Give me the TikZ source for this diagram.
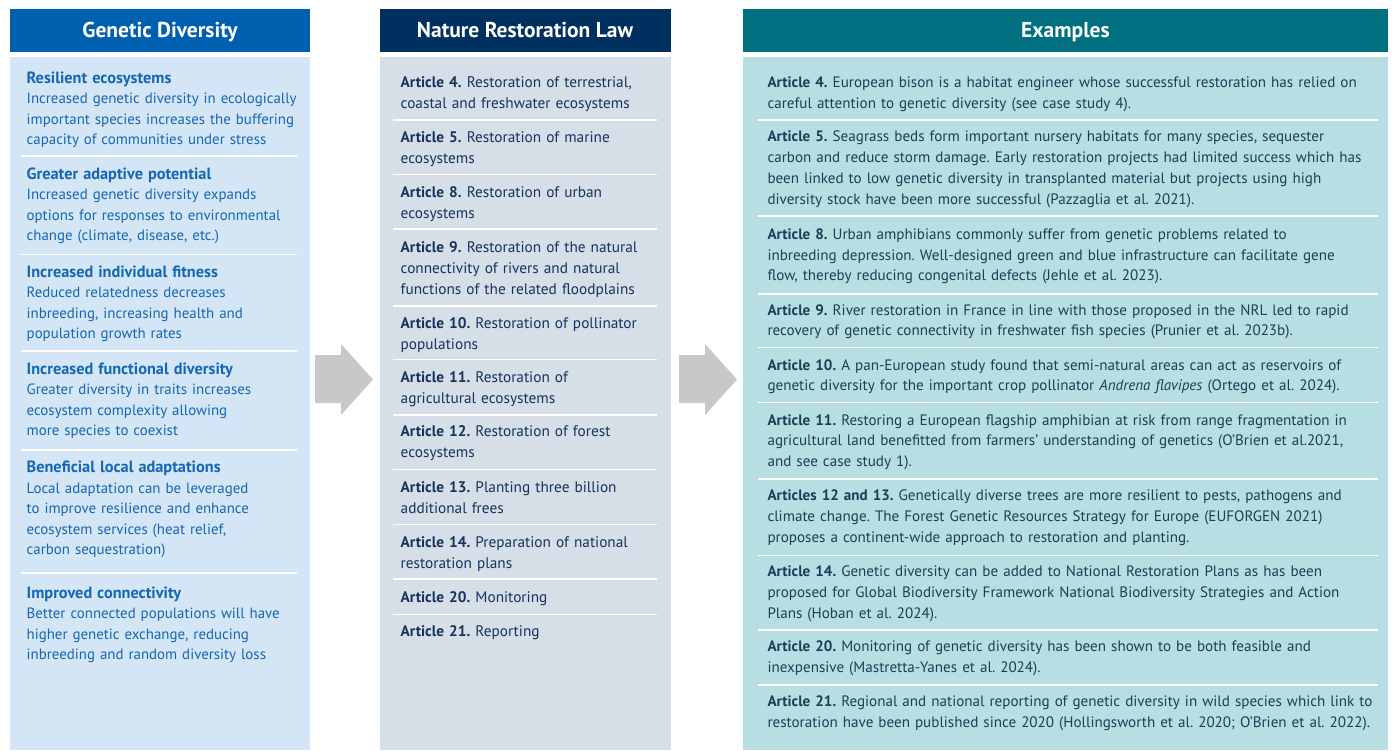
\documentclass[tikz,border=0pt]{standalone}
\usepackage{fontspec}
\setmainfont{PT Sans}
\frenchspacing
\definecolor{gdblue}{HTML}{0060B0}
\definecolor{gdlight}{HTML}{D4E6F5}
\definecolor{gdink}{HTML}{1466B6}
\definecolor{nrlnavy}{HTML}{00305F}
\definecolor{nrllight}{HTML}{D6DEE7}
\definecolor{nrlink}{HTML}{15335E}
\definecolor{exteal}{HTML}{006F80}
\definecolor{exlight}{HTML}{B7DEE3}
\definecolor{exink}{HTML}{1F3D56}
\definecolor{arrowgray}{HTML}{C8C8C8}
\newcommand{\gdhead}[1]{{\fontsize{16.3}{20.5}\selectfont\bfseries #1}}

\begin{document}
\begin{tikzpicture}[x=1pt, y=-1pt,
    header/.style={inner sep=0pt, minimum height=43.5pt, text height=14.5pt, text depth=0pt,
      text=white, font=\fontsize{21.5}{24}\selectfont\bfseries},
    gditem/.style={anchor=base west, inner sep=0pt, text width=285pt, align=left,
      text=gdink, font=\fontsize{14.9}{20.5}\selectfont},
    nrlitem/.style={anchor=base west, inner sep=0pt, text width=265pt, align=left,
      text=nrlink, font=\fontsize{15.3}{21}\selectfont},
    exitem/.style={anchor=base west, inner sep=0pt, text width=620pt, align=left,
      text=exink, font=\fontsize{15.1}{20.8}\selectfont},
    sepline/.style={white, line width=1.6pt}]
  \useasboundingbox (0,0) rectangle (1394,750);

  % panels
  \fill[gdlight] (10,56.7) rectangle (310,750);
  \fill[nrllight] (379.5,56.7) rectangle (670.5,750);
  \fill[exlight] (742.8,56.7) rectangle (1388,750);

  \node[header, fill=gdblue, minimum width=300pt] (hgd) at (160,30.3) {Genetic Diversity};
  \node[header, fill=nrlnavy, minimum width=291pt] (hnrl) at (525,30.3) {Nature Restoration Law};
  \node[header, fill=exteal, minimum width=645.2pt] (hex) at (1065.4,30.3) {Examples};

  % arrows
  \fill[arrowgray] (315,355) -- (341,355) -- (341,344) -- (373,379.5) -- (341,415)
    -- (341,403) -- (315,403) -- cycle;
  \fill[arrowgray] (679,355) -- (705,355) -- (705,344) -- (737,379.5) -- (705,415)
    -- (705,403) -- (679,403) -- cycle;

  % genetic diversity
  \node[gditem] (gd1) at (26.5,83.3) {\gdhead{Resilient ecosystems}\\
    Increased genetic diversity in ecologically\\important species increases the buffering\\
    capacity of communities under stress};
  \node[gditem] (gd2) at (26.5,179.3) {\gdhead{Greater adaptive potential}\\
    Increased genetic diversity expands\\options for responses to environmental\\
    change (climate, disease, etc.)};
  \node[gditem] (gd3) at (26.5,277.3) {\gdhead{Increased individual fitness}\\
    Reduced relatedness decreases\\inbreeding, increasing health and\\population growth rates};
  \node[gditem] (gd4) at (26.5,374) {\gdhead{Increased functional diversity}\\
    Greater diversity in traits increases\\ecosystem complexity allowing\\more species to coexist};
  \node[gditem] (gd5) at (26.5,472.7) {\gdhead{Beneficial local adaptations}\\
    Local adaptation can be leveraged\\to improve resilience and enhance\\
    ecosystem services (heat relief,\\carbon sequestration)};
  \node[gditem] (gd6) at (26.5,598.3) {\gdhead{Improved connectivity}\\
    Better connected populations will have\\higher genetic exchange, reducing\\
    inbreeding and random diversity loss};
  \foreach \y in {156,254.3,350.7,450,572.7}
    \draw[sepline] (20.7,\y) -- (296.7,\y);

  % nature restoration law
  \node[nrlitem] (nrl4) at (400.5,87.3) {\textbf{Article 4.} Restoration of terrestrial,\\
    coastal and freshwater ecosystems};
  \node[nrlitem] (nrl5) at (400.5,142.2) {\textbf{Article 5.} Restoration of marine\\ecosystems};
  \node[nrlitem] (nrl8) at (400.5,197.3) {\textbf{Article 8.} Restoration of urban\\ecosystems};
  \node[nrlitem] (nrl9) at (400.5,252.3) {\textbf{Article 9.} Restoration of the natural\\
    connectivity of rivers and natural\\functions of the related floodplains};
  \node[nrlitem] (nrl10) at (400.5,328.3) {\textbf{Article 10.} Restoration of pollinator\\populations};
  \node[nrlitem] (nrl11) at (400.5,382.7) {\textbf{Article 11.} Restoration of\\agricultural ecosystems};
  \node[nrlitem] (nrl12) at (400.5,436.7) {\textbf{Article 12.} Restoration of forest\\ecosystems};
  \node[nrlitem] (nrl13) at (400.5,492.7) {\textbf{Article 13.} Planting three billion\\additional frees};
  \node[nrlitem] (nrl14) at (400.5,547.2) {\textbf{Article 14.} Preparation of national\\restoration plans};
  \node[nrlitem] (nrl20) at (400.5,602.2) {\textbf{Article 20.} Monitoring};
  \node[nrlitem] (nrl21) at (400.5,636) {\textbf{Article 21.} Reporting};
  \foreach \y in {120,174.5,229,306,359.3,415,469.3,524.3,579,614.5}
    \draw[sepline] (393.3,\y) -- (657.3,\y);

  % examples
  \node[exitem] (ex4) at (767.3,87.7) {\textbf{Article 4.} European bison is a habitat engineer whose successful restoration has relied on\\
    careful attention to genetic diversity (see case study 4).};
  \node[exitem] (ex5) at (767.3,141.7) {\textbf{Article 5.} Seagrass beds form important nursery habitats for many species, sequester\\
    carbon and reduce storm damage. Early restoration projects had limited success which has\\
    been linked to low genetic diversity in transplanted material but projects using high\\
    diversity stock have been more successful (Pazzaglia et al. 2021).};
  \node[exitem] (ex8) at (767.3,239.3) {\textbf{Article 8.} Urban amphibians commonly suffer from genetic problems related to\\
    inbreeding depression. Well-designed green and blue infrastructure can facilitate gene\\
    flow, thereby reducing congenital defects (Jehle et al. 2023).};
  \node[exitem] (ex9) at (767.3,315) {\textbf{Article 9.} River restoration in France in line with those proposed in the NRL led to rapid\\
    recovery of genetic connectivity in freshwater fish species (Prunier et al. 2023b).};
  \node[exitem] (ex10) at (767.3,370) {\textbf{Article 10.} A pan-European study found that semi-natural areas can act as reservoirs of\\
    genetic diversity for the important crop pollinator \textit{Andrena flavipes} (Ortego et al. 2024).};
  \node[exitem] (ex11) at (767.3,425) {\textbf{Article 11.} Restoring a European flagship amphibian at risk from range fragmentation in\\
    agricultural land benefitted from farmers’ understanding of genetics (O’Brien et al.2021,\\
    and see case study 1).};
  \node[exitem] (ex12) at (767.3,500.7) {\textbf{Articles 12 and 13.} Genetically diverse trees are more resilient to pests, pathogens and\\
    climate change. The Forest Genetic Resources Strategy for Europe (EUFORGEN 2021)\\
    proposes a continent-wide approach to restoration and planting.};
  \node[exitem] (ex14) at (767.3,576.7) {\textbf{Article 14.} Genetic diversity can be added to National Restoration Plans as has been\\
    proposed for Global Biodiversity Framework National Biodiversity Strategies and Action\\
    Plans (Hoban et al. 2024).};
  \node[exitem] (ex20) at (767.3,651.7) {\textbf{Article 20.} Monitoring of genetic diversity has been shown to be both feasible and\\
    inexpensive (Mastretta-Yanes et al. 2024).};
  \node[exitem] (ex21) at (767.3,706.7) {\textbf{Article 21.} Regional and national reporting of genetic diversity in wild species which link to\\
    restoration have been published since 2020 (Hollingsworth et al. 2020; O’Brien et al. 2022).};
  \foreach \y in {120,215.7,294,347.3,402.3,479,555.5,630,685}
    \draw[sepline] (757.6,\y) -- (1378,\y);
\end{tikzpicture}
\end{document}
